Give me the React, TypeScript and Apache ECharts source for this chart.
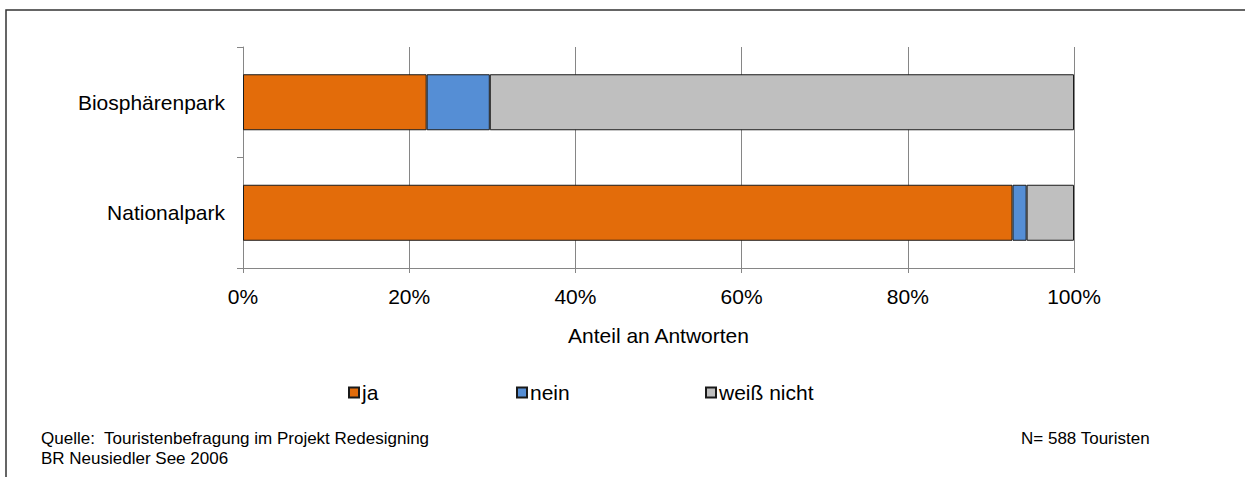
import React, { useEffect, useRef } from "react";
import * as echarts from "echarts";

// Share of answers (%) per park type
const categories = ["Nationalpark", "Biosphärenpark"];
const seriesNames = ["ja", "nein", "weiß nicht"];
const jaValues = [92.6, 22.1];
const neinValues = [1.7, 7.6];
const weissNichtValues = [5.7, 70.3];
const xTicks = [0, 20, 40, 60, 80, 100];
const colors = ["#E36C0A", "#558ED5", "#BFBFBF"];

const FONT = "'Liberation Sans', Arial, sans-serif";

export default function App() {
  const ref = useRef<HTMLDivElement>(null);

  useEffect(() => {
    if (!ref.current) return;
    const chart = echarts.init(ref.current, undefined, { renderer: "svg" });
    const values = [jaValues, neinValues, weissNichtValues];
    const legendLefts = [348, 516, 705];

    chart.setOption({
      animation: false,
      textStyle: { fontFamily: FONT, color: "#000" },
      grid: { left: 243, right: 171, top: 47, bottom: 209 },
      xAxis: {
        type: "value",
        min: xTicks[0],
        max: xTicks[xTicks.length - 1],
        interval: 20,
        axisLine: { show: true, lineStyle: { color: "#868686", width: 1 } },
        axisTick: { show: true, length: 5, lineStyle: { color: "#868686" } },
        splitLine: { show: true, lineStyle: { color: "#868686", width: 1 } },
        axisLabel: {
          formatter: "{value}%",
          fontSize: 21,
          color: "#000",
          fontFamily: FONT,
          margin: 18,
        },
        name: "Anteil an Antworten",
        nameLocation: "middle",
        nameGap: 57,
        nameTextStyle: { fontSize: 21, color: "#000", fontFamily: FONT },
      },
      yAxis: {
        type: "category",
        data: categories,
        axisLine: { show: true, lineStyle: { color: "#868686", width: 1 } },
        axisTick: { show: true, length: 6, lineStyle: { color: "#868686" } },
        axisLabel: { fontSize: 21, color: "#000", fontFamily: FONT, margin: 18 },
      },
      legend: seriesNames.map((name, i) => ({
        data: [name],
        left: legendLefts[i],
        top: 382,
        icon: "rect",
        itemWidth: 10,
        itemHeight: 10,
        itemGap: 0,
        padding: 0,
        textStyle: { fontSize: 21, color: "#000", fontFamily: FONT, padding: [0, 0, 0, -2] },
      })),
      series: seriesNames.map((name, i) => ({
        name,
        type: "bar",
        stack: "total",
        barWidth: 56,
        data: values[i],
        itemStyle: { color: colors[i], borderColor: "#1a1a1a", borderWidth: 1 },
        emphasis: { disabled: true },
      })),
      graphic: [
        {
          type: "rect",
          shape: { x: 6, y: 10, width: 1300, height: 600 },
          style: { fill: "none", stroke: "#333", lineWidth: 1.5 },
          silent: true,
        },
        {
          type: "text",
          left: 41,
          top: 428,
          style: {
            text: "Quelle:  Touristenbefragung im Projekt Redesigning\nBR Neusiedler See 2006",
            font: `17px ${FONT}`,
            fill: "#000",
            lineHeight: 20,
          },
        },
        {
          type: "text",
          left: 1021,
          top: 428,
          style: { text: "N= 588 Touristen", font: `17px ${FONT}`, fill: "#000", lineHeight: 20 },
        },
      ],
    });

    return () => chart.dispose();
  }, []);

  return (
    <div
      ref={ref}
      style={{ position: "fixed", left: 0, top: 0, width: 1245, height: 477, background: "#fff" }}
    />
  );
}
